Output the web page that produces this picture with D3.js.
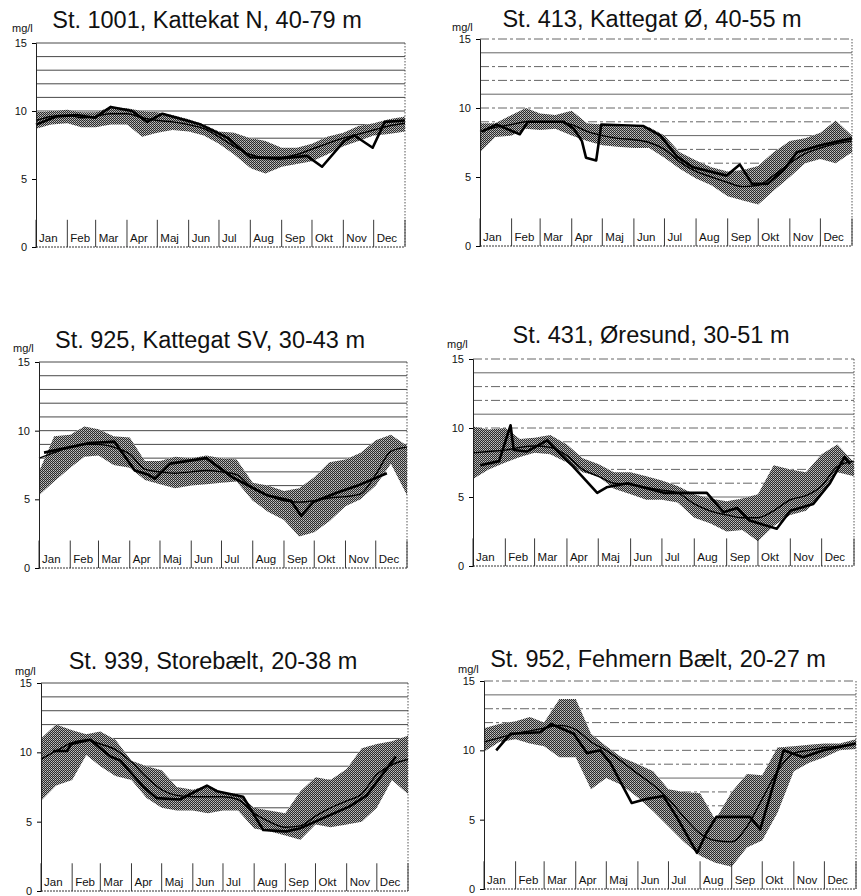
<!DOCTYPE html>
<html>
<head>
  <meta charset="utf-8">
  <title>Iltkoncentration bundvand</title>
  <script src="https://d3js.org/d3.v7.min.js"></script>
  <style>
    body { margin: 0; background: #fff; }
    svg text { font-family: "Liberation Sans", Arial, sans-serif; fill: #111; }
  </style>
</head>
<body>
  <div id="chart"></div>

  <script>
    // month labels and month boundaries (day of year)
    var months = ["Jan", "Feb", "Mar", "Apr", "Maj", "Jun", "Jul", "Aug", "Sep", "Okt", "Nov", "Dec"];
    var monthStarts = [0, 31, 59, 90, 120, 151, 181, 212, 243, 273, 304, 334, 365];
    var yTicks = [0, 5, 10, 15];
    var gridLevels = [1, 2, 3, 4, 5, 6, 7, 8, 9, 10, 11, 12, 13, 14, 15];

    // days where the band (min/max range) and the median curve are read
    var bandDays = [0, 15, 31, 45, 59, 74, 90, 105, 120, 135, 151, 166, 181, 196, 212, 227, 243, 258, 273, 288, 304, 319, 334, 349, 365];

    var titles = [
      "St. 1001, Kattekat N, 40-79 m",
      "St. 413, Kattegat Ø, 40-55 m",
      "St. 925, Kattegat SV, 30-43 m",
      "St. 431, Øresund, 30-51 m",
      "St. 939, Storebælt, 20-38 m",
      "St. 952, Fehmern Bælt, 20-27 m"
    ];

    // St. 1001
    var low1001 = [8.7, 9.0, 9.1, 8.8, 8.8, 9.0, 9.0, 8.1, 8.4, 8.6, 8.5, 8.2, 7.6, 6.8, 5.8, 5.4, 5.9, 6.1, 6.3, 6.8, 7.4, 7.8, 8.2, 8.3, 8.5];
    var high1001 = [9.9, 10.0, 10.1, 9.9, 9.9, 10.3, 10.2, 10.0, 9.9, 9.7, 9.4, 9.0, 8.5, 8.4, 8.0, 7.8, 7.3, 7.3, 7.6, 8.1, 8.4, 8.9, 9.1, 9.4, 9.6];
    var median1001 = [9.3, 9.6, 9.7, 9.5, 9.6, 9.8, 9.8, 9.5, 9.3, 9.2, 9.0, 8.7, 8.1, 7.4, 6.8, 6.6, 6.6, 6.8, 7.2, 7.6, 8.0, 8.3, 8.6, 8.9, 9.1];
    var obsDays1001 = [0, 20, 40, 58, 74, 95, 110, 125, 163, 190, 212, 240, 268, 283, 305, 315, 333, 345, 365];
    var obsVals1001 = [9.0, 9.6, 9.7, 9.5, 10.3, 10.0, 9.2, 9.8, 9.0, 8.0, 6.6, 6.5, 6.7, 5.9, 7.8, 8.2, 7.3, 9.2, 9.3];

    // St. 413
    var low413 = [6.8, 7.9, 8.0, 8.5, 8.4, 8.5, 8.0, 7.6, 7.3, 7.2, 7.1, 7.1, 6.4, 5.6, 4.9, 4.4, 3.6, 3.3, 3.0, 4.0, 5.0, 6.0, 6.3, 6.0, 6.8];
    var high413 = [8.9, 8.9, 9.5, 10.0, 9.6, 9.5, 9.8, 8.9, 8.8, 8.7, 8.6, 8.6, 8.0, 6.8, 6.2, 5.7, 5.4, 5.5, 5.8, 6.8, 7.6, 7.8, 8.2, 9.1, 8.0];
    var median413 = [8.3, 8.6, 8.8, 9.0, 9.0, 9.0, 8.8, 8.3, 8.0, 7.8, 7.7, 7.5, 7.0, 6.1, 5.4, 5.0, 4.6, 4.3, 4.4, 5.1, 6.0, 6.7, 7.1, 7.4, 7.6];
    var obsDays413 = [2, 16, 39, 47, 82, 92, 100, 104, 114, 119, 160, 177, 193, 209, 242, 255, 267, 282, 298, 311, 334, 365];
    var obsVals413 = [8.3, 8.8, 8.1, 9.0, 9.0, 8.5, 7.6, 6.4, 6.2, 8.8, 8.7, 8.0, 6.5, 5.7, 5.1, 5.9, 4.5, 4.5, 5.5, 6.8, 7.3, 7.8];

    // St. 925
    var low925 = [5.3, 6.3, 7.3, 8.1, 8.2, 7.5, 7.3, 6.4, 6.1, 5.8, 6.0, 6.1, 6.2, 6.3, 4.9, 4.1, 3.5, 2.3, 2.6, 3.4, 4.5, 5.0, 6.0, 7.6, 5.3];
    var high925 = [7.0, 9.6, 9.7, 10.3, 10.1, 9.6, 9.5, 7.8, 7.8, 8.1, 8.0, 8.2, 8.0, 7.9, 6.2, 6.0, 5.6, 5.8, 6.6, 7.7, 7.9, 8.4, 9.3, 9.7, 8.9];
    var median925 = [8.0, 8.4, 8.8, 9.0, 9.0, 8.8, 8.3, 7.2, 7.0, 6.9, 7.0, 7.1, 7.0, 6.8, 5.8, 5.3, 4.9, 4.8, 4.9, 5.1, 5.2, 5.4, 6.8, 8.5, 8.8];
    var obsDays925 = [5, 31, 50, 75, 95, 108, 115, 130, 166, 192, 226, 250, 260, 272, 296, 316, 345];
    var obsVals925 = [8.4, 8.8, 9.1, 9.2, 7.1, 6.8, 6.5, 7.6, 8.0, 6.6, 5.3, 4.9, 3.8, 4.8, 5.5, 6.0, 6.9];

    // St. 431
    var low431 = [6.3, 7.0, 7.5, 7.9, 8.2, 8.1, 7.5, 6.8, 6.5, 5.6, 5.2, 4.8, 4.8, 4.6, 3.5, 3.1, 2.5, 2.6, 1.8, 2.9, 3.7, 4.0, 5.2, 6.8, 6.5];
    var high431 = [10.1, 9.9, 10.0, 9.2, 9.3, 9.5, 8.8, 7.8, 7.4, 6.8, 6.8, 6.5, 6.2, 5.8, 5.2, 4.9, 4.7, 4.9, 5.2, 7.3, 7.0, 6.8, 8.1, 8.8, 7.5];
    var median431 = [8.2, 8.3, 8.4, 8.6, 8.7, 8.6, 8.0, 7.0, 6.5, 6.0, 5.9, 5.7, 5.5, 5.3, 4.5, 4.0, 3.7, 3.5, 3.5, 4.0, 4.8, 5.1, 5.8, 7.2, 7.6];
    var obsDays431 = [7, 25, 36, 39, 52, 71, 80, 96, 119, 128, 148, 183, 224, 240, 253, 265, 291, 304, 326, 342, 356, 361];
    var obsVals431 = [7.3, 7.6, 10.2, 8.4, 8.3, 9.1, 8.4, 7.2, 5.3, 5.7, 6.0, 5.3, 5.3, 3.9, 4.2, 3.3, 2.7, 4.0, 4.5, 6.0, 7.9, 7.4];

    // St. 939
    var low939 = [6.5, 7.6, 8.0, 9.8, 9.0, 8.3, 8.0, 6.7, 6.0, 5.8, 5.8, 5.6, 5.8, 5.8, 4.5, 4.3, 4.0, 3.7, 4.8, 4.6, 4.8, 5.0, 6.0, 8.0, 7.0];
    var high939 = [11.0, 12.0, 11.6, 11.3, 11.5, 10.9, 9.4, 9.0, 8.7, 7.5, 7.3, 7.6, 7.1, 7.0, 6.0, 5.8, 5.6, 7.2, 8.2, 8.0, 8.8, 10.3, 10.6, 10.8, 11.2];
    var median939 = [9.5, 10.1, 10.7, 10.9, 10.6, 10.2, 9.3, 8.2, 7.3, 6.9, 6.8, 6.8, 6.8, 6.6, 5.6, 5.0, 4.6, 4.7, 5.4, 6.0, 6.5, 7.0, 8.4, 9.1, 9.5];
    var obsDays939 = [12, 26, 30, 49, 69, 79, 102, 115, 138, 165, 175, 201, 221, 244, 257, 307, 324, 353];
    var obsVals939 = [10.1, 10.1, 10.6, 10.9, 9.7, 9.4, 7.5, 6.7, 6.6, 7.6, 7.2, 6.8, 4.4, 4.3, 4.5, 6.1, 6.9, 9.7];

    // St. 952
    var low952 = [9.9, 10.6, 10.8, 10.5, 10.3, 9.5, 9.5, 7.2, 8.0, 7.5, 6.6, 5.6, 4.5, 3.4, 2.4, 1.9, 1.6, 3.0, 3.5, 5.5, 8.5, 9.1, 9.5, 10.0, 10.1];
    var high952 = [11.6, 11.9, 12.1, 12.4, 12.0, 13.7, 13.7, 11.2, 10.3, 9.5, 9.0, 8.5, 7.2, 7.0, 6.9, 5.0, 7.0, 8.3, 8.2, 10.2, 10.3, 10.4, 10.5, 10.5, 10.8];
    var median952 = [10.6, 10.9, 11.2, 11.4, 11.6, 11.8, 11.5, 10.6, 10.0, 9.2, 8.3, 7.5, 6.5, 5.2, 4.0, 3.5, 3.4, 4.5, 6.5, 8.5, 9.8, 10.0, 10.2, 10.3, 10.5];
    var obsDays952 = [12, 26, 55, 66, 88, 101, 114, 124, 145, 160, 176, 189, 209, 218, 228, 261, 271, 294, 313, 333, 365];
    var obsVals952 = [10.0, 11.2, 11.3, 11.9, 11.2, 9.8, 10.0, 9.1, 6.2, 6.5, 6.7, 5.2, 2.6, 4.0, 5.2, 5.2, 4.3, 10.0, 9.5, 10.0, 10.5];

    var panels = [
      { low: low1001, high: high1001, median: median1001, obsDays: obsDays1001, obsVals: obsVals1001 },
      { low: low413, high: high413, median: median413, obsDays: obsDays413, obsVals: obsVals413 },
      { low: low925, high: high925, median: median925, obsDays: obsDays925, obsVals: obsVals925 },
      { low: low431, high: high431, median: median431, obsDays: obsDays431, obsVals: obsVals431 },
      { low: low939, high: high939, median: median939, obsDays: obsDays939, obsVals: obsVals939 },
      { low: low952, high: high952, median: median952, obsDays: obsDays952, obsVals: obsVals952 }
    ];

    // placement of each panel on the page (plot box, title, unit label)
    var layout = [
      { x: 36,  y: 43,  w: 369, h: 204, tx: 207, ty: 28,  ux: 12,  uy: 32,  faded: false },
      { x: 480, y: 39,  w: 372, h: 207, tx: 652, ty: 27,  ux: 452, uy: 31,  faded: true },
      { x: 39,  y: 362, w: 368, h: 206, tx: 210, ty: 348, ux: 13,  uy: 352, faded: false },
      { x: 473, y: 359, w: 381, h: 207, tx: 651, ty: 343, ux: 447, uy: 348, faded: true },
      { x: 41,  y: 683, w: 367, h: 208, tx: 213, ty: 669, ux: 15,  uy: 675, faded: false },
      { x: 484, y: 681, w: 372, h: 208, tx: 658, ty: 667, ux: 458, uy: 673, faded: true }
    ];

    var svg = d3.select("#chart")
                .append("svg")
                .attr("width", 861)
                .attr("height", 896);

    // halftone-like fill for the range band (dark checker)
    var pat = svg.append("defs").append("pattern")
                 .attr("id", "dots")
                 .attr("patternUnits", "userSpaceOnUse")
                 .attr("width", 2).attr("height", 2);
    pat.append("rect").attr("width", 2).attr("height", 2).attr("fill", "#2a2a2a");
    pat.append("rect").attr("x", 0).attr("y", 0).attr("width", 1).attr("height", 1).attr("fill", "#c4c4c4");
    pat.append("rect").attr("x", 1).attr("y", 1).attr("width", 1).attr("height", 1).attr("fill", "#9a9a9a");

    panels.forEach(function(p, i) {
      var L = layout[i];

      var x = d3.scaleLinear().domain([0, 365]).range([0, L.w]);
      var y = d3.scaleLinear().domain([0, 15]).range([L.h, 0]);

      // title and unit
      svg.append("text")
         .attr("x", L.tx).attr("y", L.ty)
         .attr("text-anchor", "middle")
         .style("font-size", "23.5px")
         .text(titles[i]);

      svg.append("text")
         .attr("x", L.ux).attr("y", L.uy)
         .style("font-size", "11px")
         .text("mg/l");

      var g = svg.append("g")
                 .attr("transform", "translate(" + L.x + "," + L.y + ")");

      // horizontal grid lines
      g.selectAll(".grid")
       .data(gridLevels)
       .enter().append("line")
       .attr("x1", 0).attr("x2", L.w)
       .attr("y1", d => y(d)).attr("y2", d => y(d))
       .attr("stroke", L.faded ? "#555" : "#333")
       .attr("stroke-width", 0.9)
       .attr("stroke-dasharray", d => (L.faded && d % 3 != 2) ? "9,3,3,3" : null);

      var pts = bandDays.map((d, k) => ({ day: d, lo: p.low[k], hi: p.high[k], med: p.median[k] }));

      // white cover below the band so grid lines only show above it
      g.append("path")
       .datum(pts)
       .attr("fill", "#fff")
       .attr("d", d3.area().x(d => x(d.day)).y0(y(0)).y1(d => y(d.hi)));

      // range band
      g.append("path")
       .datum(pts)
       .attr("fill", "url(#dots)")
       .attr("d", d3.area().x(d => x(d.day)).y0(d => y(d.lo)).y1(d => y(d.hi)));

      // median curve
      g.append("path")
       .datum(pts)
       .attr("fill", "none")
       .attr("stroke", "#000")
       .attr("stroke-width", 1.4)
       .attr("d", d3.line().x(d => x(d.day)).y(d => y(d.med)).curve(d3.curveMonotoneX));

      // measurements of the year
      var obs = p.obsDays.map((d, k) => ({ day: d, v: p.obsVals[k] }));
      g.append("path")
       .datum(obs)
       .attr("fill", "none")
       .attr("stroke", "#000")
       .attr("stroke-width", 2.6)
       .attr("stroke-linejoin", "round")
       .attr("d", d3.line().x(d => x(d.day)).y(d => y(d.v)));

      // month separators and labels
      g.selectAll(".sep")
       .data(monthStarts)
       .enter().append("line")
       .attr("x1", d => x(d)).attr("x2", d => x(d))
       .attr("y1", y(0)).attr("y2", y(2))
       .attr("stroke", "#222")
       .attr("stroke-width", 0.9);

      g.selectAll(".month")
       .data(months)
       .enter().append("text")
       .attr("x", (d, k) => x(monthStarts[k]) + 3)
       .attr("y", y(0) - 5)
       .style("font-size", "11.5px")
       .text(d => d);

      // frame: right and bottom dotted
      g.append("line")
       .attr("x1", L.w).attr("x2", L.w).attr("y1", y(15)).attr("y2", y(0))
       .attr("stroke", "#444").attr("stroke-width", 0.9).attr("stroke-dasharray", "1.5,1.5");
      g.append("line")
       .attr("x1", 0).attr("x2", L.w).attr("y1", y(0)).attr("y2", y(0))
       .attr("stroke", "#333").attr("stroke-width", 1).attr("stroke-dasharray", "2,1");

      // y axis
      var ax = g.append("g")
                .call(d3.axisLeft(y).tickValues(yTicks).tickSize(4).tickPadding(5));
      ax.select(".domain").attr("stroke", "#222");
      ax.selectAll("text").style("font-size", "11px").style("font-family", "Liberation Sans, Arial, sans-serif").attr("fill", "#111");
    });
  </script>
</body>
</html>
